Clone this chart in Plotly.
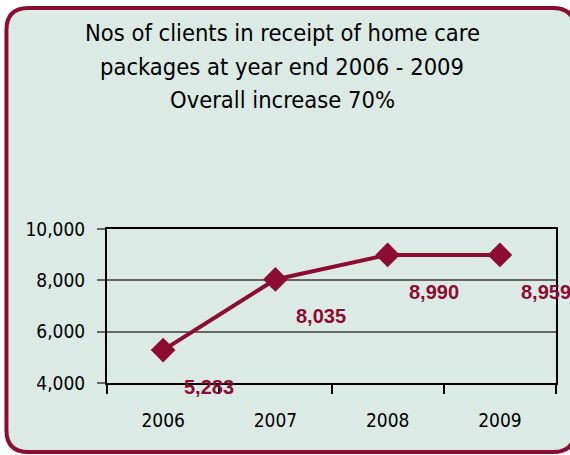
import plotly.graph_objects as go

years = ["2006", "2007", "2008", "2009"]
clients = [5283, 8035, 8990, 8990]
labels = ["5,283", "8,035", "8,990", "8,959"]
title_lines = ["Nos of clients in receipt of home care",
               "packages at year end 2006 - 2009",
               "Overall increase 70%"]

W, H = 570, 455
L, R, T, B = 107, 558, 229, 383
pw, ph = R - L, B - T

def px(x):
    return (x - L) / pw

def py(y):
    return (B - y) / ph

RED = "#8C0C33"
FILL = "#DBEAE4"
NARROW = "Liberation Sans Narrow, Arial Narrow, DejaVu Sans Condensed, sans-serif"

fig = go.Figure()
fig.add_trace(go.Scatter(
    x=years, y=clients, mode="lines+markers",
    line=dict(color=RED, width=4),
    marker=dict(symbol="diamond", size=19, color=RED),
    hoverinfo="skip", showlegend=False, cliponaxis=False,
))

for i, (v, t) in enumerate(zip(clients, labels)):
    fig.add_annotation(x=i, y=v, xref="x", yref="y", text="<b>%s</b>" % t,
                       showarrow=False, xshift=46, yshift=-37,
                       font=dict(family="Liberation Sans, Arial, sans-serif", size=20, color=RED))

for k, line in enumerate(title_lines):
    fig.add_annotation(x=px(283), y=py(33 + 33.5 * k), xref="paper", yref="paper",
                       text=line, showarrow=False, xanchor="center", yanchor="middle",
                       font=dict(family=NARROW, size=23.5, color="black"))

# rounded box: right edge lies just beyond the page, only its corners show
x0, y0, x1, y1, r = 6, 8, 577, 452, 22
border = (
    f"M {px(x1)},{py(y0 + r)} "
    f"Q {px(x1)},{py(y0)} {px(x1 - r)},{py(y0)} "
    f"L {px(x0 + r)},{py(y0)} "
    f"Q {px(x0)},{py(y0)} {px(x0)},{py(y0 + r)} "
    f"L {px(x0)},{py(y1 - r)} "
    f"Q {px(x0)},{py(y1)} {px(x0 + r)},{py(y1)} "
    f"L {px(x1 - r)},{py(y1)} "
    f"Q {px(x1)},{py(y1)} {px(x1)},{py(y1 - r)}"
)
fill = border + f" L {px(x1 + 30)},{py(y1 - r)} L {px(x1 + 30)},{py(y0 + r)} Z"
fig.add_shape(type="path", path=fill, xref="paper", yref="paper",
              line=dict(width=0), fillcolor=FILL, layer="below")
fig.add_shape(type="path", path=border, xref="paper", yref="paper",
              line=dict(color=RED, width=4), fillcolor="rgba(0,0,0,0)", layer="below")

fig.update_layout(
    width=W, height=H,
    margin=dict(l=L, r=W - R, t=T, b=H - B),
    paper_bgcolor="white", plot_bgcolor="rgba(0,0,0,0)",
    xaxis=dict(type="category", range=[-0.5, 3.5], tickson="boundaries",
               ticks="outside", ticklen=9, tickcolor="black", tickwidth=1.5,
               showline=True, linecolor="black", linewidth=2, mirror=True,
               showgrid=False, ticklabelstandoff=19,
               tickfont=dict(family=NARROW, size=19, color="black")),
    yaxis=dict(range=[4000, 10000], dtick=2000, tickformat=",d",
               ticks="outside", ticklen=8, tickcolor="#666666", tickwidth=1.5,
               showline=True, linecolor="black", linewidth=2, mirror=True,
               showgrid=True, gridcolor="#666666", gridwidth=1.5,
               zeroline=False, ticklabelstandoff=8,
               tickfont=dict(family=NARROW, size=19, color="black")),
)

fig.write_html("out.html", config={"displayModeBar": False},
               post_script="document.body.style.margin='0';document.body.style.overflow='hidden';")
